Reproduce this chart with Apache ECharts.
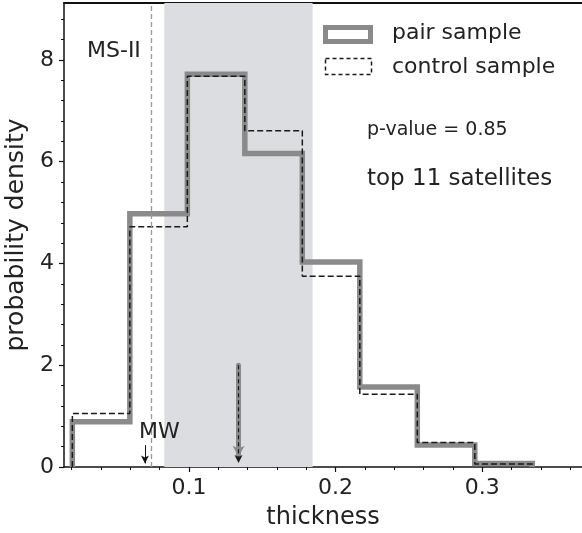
<!DOCTYPE html>
<html>
<head>
<meta charset="utf-8">
<script src="https://cdn.jsdelivr.net/npm/echarts@6/dist/echarts.min.js"></script>
<style>
html,body{margin:0;padding:0;background:#fff;}
#main{width:582px;height:533px;}
</style>
</head>
<body>
<div id="main"></div>
<script>
// bin edges (thickness) and densities
var binEdges = [0.0205, 0.0597, 0.0989, 0.1381, 0.1773, 0.2165, 0.2557, 0.2949, 0.3341];
var pairDensity = [0.89, 4.98, 7.72, 6.16, 4.03, 1.57, 0.43, 0.07];
var controlDensity = [1.05, 4.72, 7.68, 6.61, 3.75, 1.43, 0.48, 0.06];
var shadeRange = [0.0832, 0.1843];
var msiiLine = 0.0741;
var mwArrow = [0.070, 0.43, 0.07];
var medianArrow = [0.1338, 2.0, 0.08];

var xMajor = [0.1, 0.2, 0.3];
var xMinor = [0.02, 0.04, 0.06, 0.08, 0.12, 0.14, 0.16, 0.18, 0.22, 0.24, 0.26, 0.28, 0.32, 0.34, 0.36];
var yMajor = [0, 2, 4, 6, 8];
var yMinor = [0.4, 0.8, 1.2, 1.6, 2.4, 2.8, 3.2, 3.6, 4.4, 4.8, 5.2, 5.6, 6.4, 6.8, 7.2, 7.6, 8.4, 8.8];

var FONT = 'DejaVu Sans';

// step outline like a matplotlib 'step' histogram
function stepData(edges, h) {
    var d = [[edges[0], 0]];
    for (var i = 0; i < h.length; i++) {
        d.push([edges[i], h[i]]);
    }
    d.push([edges[edges.length - 1], 0]);
    return d;
}

var myChart = echarts.init(document.getElementById('main'));
var xmin = 0.0148, xmax = 0.368, ymax = 9.12;

option = {
    animation: false,
    backgroundColor: '#fff',
    grid: {left: 64, right: 0, top: 3, bottom: 66, containLabel: false, outerBoundsMode: 'none'},
    xAxis: [{
        type: 'value', min: xmin, max: xmax,
        position: 'bottom',
        name: 'thickness', nameLocation: 'middle', nameGap: 39,
        nameTextStyle: {fontFamily: FONT, fontSize: 24, color: '#222'},
        axisLine: {lineStyle: {color: '#111', width: 1.5}},
        axisTick: {customValues: xMajor, length: 5, lineStyle: {color: '#111', width: 1.2}},
        axisLabel: {customValues: xMajor, fontFamily: FONT, fontSize: 22, color: '#222', margin: 10,
            formatter: function (v) { return v.toFixed(1); }},
        splitLine: {show: false}
    }, {
        type: 'value', min: xmin, max: xmax,
        position: 'bottom',
        axisLine: {show: false},
        axisTick: {customValues: xMinor, length: 3, lineStyle: {color: '#111', width: 1}},
        axisLabel: {show: false},
        splitLine: {show: false}
    }, {
        type: 'value', min: xmin, max: xmax,
        position: 'top',
        axisLine: {lineStyle: {color: '#111', width: 2}},
        axisTick: {show: false},
        axisLabel: {show: false},
        splitLine: {show: false}
    }],
    yAxis: [{
        type: 'value', min: 0, max: ymax,
        name: 'probability density', nameLocation: 'middle', nameGap: 30,
        nameTextStyle: {fontFamily: FONT, fontSize: 25, color: '#222'},
        axisLine: {show: true, lineStyle: {color: '#111', width: 1.5}},
        axisTick: {show: true, customValues: yMajor, length: 5, lineStyle: {color: '#111', width: 1.2}},
        axisLabel: {customValues: yMajor, fontFamily: FONT, fontSize: 22, color: '#222', margin: 10},
        splitLine: {show: false}
    }, {
        type: 'value', min: 0, max: ymax, position: 'left',
        axisLine: {show: false},
        axisTick: {show: true, customValues: yMinor, length: 3, lineStyle: {color: '#111', width: 1}},
        axisLabel: {show: false},
        splitLine: {show: false}
    }],
    series: [{
        type: 'scatter', data: [], z: 1, silent: true,
        markArea: {
            silent: true,
            itemStyle: {color: '#dcdde0'},
            data: [[{xAxis: shadeRange[0]}, {xAxis: shadeRange[1]}]]
        },
        markLine: {
            silent: true, symbol: ['none', 'none'],
            label: {show: false},
            lineStyle: {color: '#999', width: 1.3, type: [5, 3]},
            data: [[{coord: [msiiLine, 0]}, {coord: [msiiLine, ymax]}]]
        }
    }, {
        name: 'pair sample', type: 'line', step: 'end', z: 3,
        data: stepData(binEdges, pairDensity),
        symbol: 'none',
        lineStyle: {color: '#8a8a8a', width: 5.5, cap: 'butt', join: 'miter'}
    }, {
        name: 'control sample', type: 'line', step: 'end', z: 4,
        data: stepData(binEdges, controlDensity),
        symbol: 'none',
        lineStyle: {color: '#1a1a1a', width: 1.5, type: [6, 3]}
    }, {
        type: 'scatter', data: [], z: 5, silent: true,
        markLine: {
            silent: true,
            label: {show: false},
            data: [
                [{coord: [medianArrow[0], medianArrow[1]], symbol: 'none'},
                 {coord: [medianArrow[0], medianArrow[2] + 0.12], symbol: 'arrow', symbolSize: [9, 11],
                  lineStyle: {color: '#8a8a8a', width: 5, type: 'solid', cap: 'round'}}],
                [{coord: [medianArrow[0], medianArrow[1]], symbol: 'none'},
                 {coord: [medianArrow[0], medianArrow[2]], symbol: 'arrow', symbolSize: [6, 8],
                  lineStyle: {color: '#1a1a1a', width: 1.2, type: [4, 3]}}],
                [{coord: [mwArrow[0], mwArrow[1]], symbol: 'none'},
                 {coord: [mwArrow[0], mwArrow[2]], symbol: 'arrow', symbolSize: [6, 8],
                  lineStyle: {color: '#111', width: 1, type: 'solid'}}]
            ]
        }
    }],
    graphic: [
        {type: 'rect', shape: {x: 325.5, y: 27.5, width: 45, height: 14},
         style: {fill: '#fff', stroke: '#8a8a8a', lineWidth: 5}, z: 10},
        {type: 'text', x: 392, y: 33, z: 10,
         style: {text: 'pair sample', fontFamily: FONT, fontSize: 22, fill: '#222', verticalAlign: 'middle'}},
        {type: 'rect', shape: {x: 325.5, y: 58.5, width: 46, height: 16},
         style: {fill: '#fff', stroke: '#1a1a1a', lineWidth: 1.5, lineDash: [4, 3]}, z: 10},
        {type: 'text', x: 392, y: 67, z: 10,
         style: {text: 'control sample', fontFamily: FONT, fontSize: 22, fill: '#222', verticalAlign: 'middle'}},
        {type: 'text', x: 367, y: 130, z: 10,
         style: {text: 'p-value = 0.85', fontFamily: FONT, fontSize: 19, fill: '#222', verticalAlign: 'middle'}},
        {type: 'text', x: 367, y: 179, z: 10,
         style: {text: 'top 11 satellites', fontFamily: FONT, fontSize: 23, fill: '#222', verticalAlign: 'middle'}},
        {type: 'text', x: 87, y: 51, z: 10,
         style: {text: 'MS-II', fontFamily: FONT, fontSize: 22, fill: '#222', verticalAlign: 'middle'}},
        {type: 'text', x: 139, y: 432, z: 10,
         style: {text: 'MW', fontFamily: FONT, fontSize: 22, fill: '#222', verticalAlign: 'middle'}}
    ]
};
myChart.setOption(option);
</script>
</body>
</html>
